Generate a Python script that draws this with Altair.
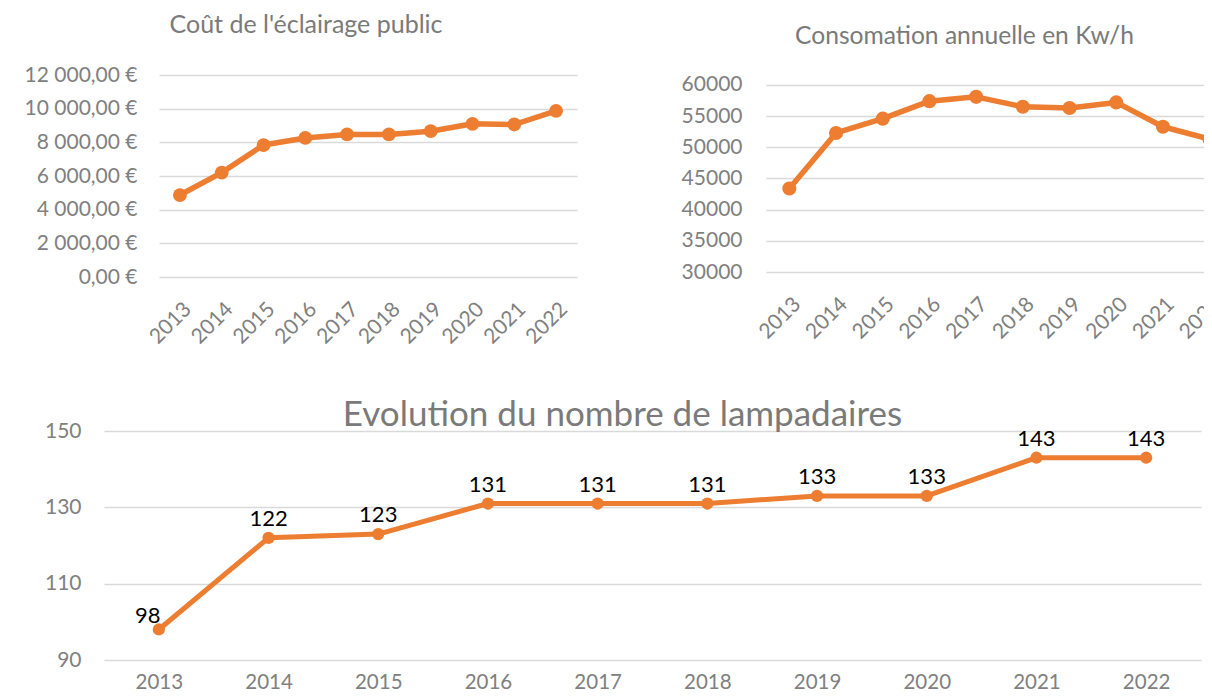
import altair as alt
import pandas as pd

years = ["2013", "2014", "2015", "2016", "2017", "2018", "2019", "2020", "2021", "2022"]
cost = [4870, 6200, 7840, 8260, 8470, 8470, 8660, 9100, 9060, 9870]
consumption = [43400, 52300, 54600, 57400, 58100, 56500, 56300, 57200, 53300, 51300]
lamps = [98, 122, 123, 131, 131, 131, 133, 133, 143, 143]

ORANGE = "#ED7D31"
GRAY = "#808080"
TGRAY = "#7a7a7a"
FONT = "Lato"

df_cost = pd.DataFrame({"year": years, "value": cost})
df_cons = pd.DataFrame({"year": years, "value": consumption})
df_lamp = pd.DataFrame({"year": years, "value": lamps})


def x_rot():
    return alt.X(
        "year:N", sort=years, title=None,
        scale=alt.Scale(type="point", padding=0.5),
        axis=alt.Axis(labelAngle=-45, labelAlign="right", labelBaseline="top",
                      labelPadding=21, labelFontSize=21, grid=False),
    )


def series(df, x, y, size, width):
    base = alt.Chart(df).encode(x=x, y=y)
    line = base.mark_line(color=ORANGE, strokeWidth=width, strokeJoin="round")
    pts = base.mark_circle(color=ORANGE, size=size, opacity=1)
    return line, pts


def spacer(w):
    return alt.Chart(pd.DataFrame({"s": [0]})).mark_point(opacity=0).properties(width=w, height=10)


# --- Top-left: cost
y_cost = alt.Y(
    "value:Q", title=None, scale=alt.Scale(domain=[0, 12000]),
    axis=alt.Axis(values=list(range(0, 12001, 2000)),
                  labelExpr="replace(replace(format(datum.value, ',.2f'), ',', ' '), '.', ',') + ' €'",
                  labelFontSize=21, labelPadding=22),
)
l1, p1 = series(df_cost, x_rot(), y_cost, 190, 5.5)
chart_a = alt.layer(l1, p1).properties(
    width=418, height=202,
    title=alt.TitleParams("Coût de l'éclairage public", fontSize=25, color=TGRAY,
                          font=FONT, fontWeight="normal", offset=26, dx=-62,
                          anchor="middle", frame="group"),
)

# --- Top-right: consumption
y_cons = alt.Y(
    "value:Q", title=None, scale=alt.Scale(domain=[30000, 61600], nice=False, zero=False),
    axis=alt.Axis(values=list(range(30000, 60001, 5000)), format="d",
                  labelFontSize=21, labelPadding=24),
)
l2, p2 = series(df_cons, x_rot(), y_cons, 200, 5.5)
chart_b = alt.layer(l2, p2).properties(
    width=467, height=197,
    title=alt.TitleParams("Consomation annuelle en Kw/h", fontSize=24.6, color=TGRAY,
                          font=FONT, fontWeight="normal", offset=24, dx=-35,
                          anchor="middle", frame="group"),
)

# --- Bottom: lamp posts
x_flat = alt.X(
    "year:N", sort=years, title=None,
    scale=alt.Scale(type="point", padding=0.5),
    axis=alt.Axis(labelAngle=0, labelPadding=12, labelFontSize=20.5, grid=False),
)
y_lamp = alt.Y(
    "value:Q", title=None, scale=alt.Scale(domain=[90, 150]),
    axis=alt.Axis(values=[90, 110, 130, 150], labelFontSize=21, labelPadding=23),
)
l3, p3 = series(df_lamp, x_flat, y_lamp, 150, 5)
base3 = alt.Chart(df_lamp).encode(x=x_flat, y=y_lamp, text=alt.Text("value:Q"))
labels = base3.transform_filter("datum.year != '2013'").mark_text(
    fontSize=22, font=FONT, color="#000000", dy=-12, baseline="alphabetic")
label98 = base3.transform_filter("datum.year == '2013'").mark_text(
    fontSize=22, font=FONT, color="#000000", dx=-11, dy=-6, baseline="alphabetic")
chart_c = alt.layer(l3, p3, labels, label98).properties(
    width=1097, height=229,
    title=alt.TitleParams("Evolution du nombre de lampadaires", fontSize=35, color=TGRAY,
                          font=FONT, fontWeight="normal", offset=-13, dx=-30,
                          anchor="middle", frame="group"),
)

top = alt.hconcat(spacer(55), chart_a, spacer(189), chart_b, spacing=0, bounds="flush")
chart = alt.vconcat(top, chart_c, spacing=50).properties(
    autosize=alt.AutoSizeParams(type="none"),
    padding={"left": 96, "top": 67, "right": 1100, "bottom": 616},
).configure_view(stroke=None).configure_axis(
    domain=False, ticks=False, gridColor="#d9d9d9", gridWidth=1.5,
    labelColor=GRAY, labelFont=FONT,
).configure_text(font=FONT)

chart.save("out.html", embed_options={"renderer": "svg", "actions": False})
